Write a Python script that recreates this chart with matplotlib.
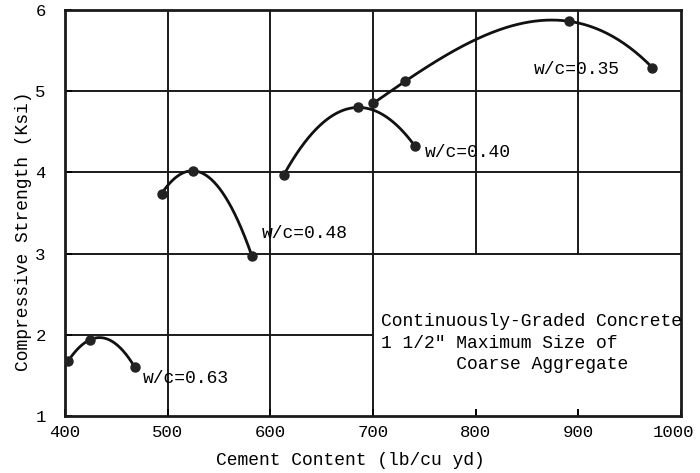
import numpy as np
import matplotlib
matplotlib.use("Agg")
import matplotlib.pyplot as plt
from matplotlib.transforms import ScaledTranslation

plt.rcParams['font.family'] = ['Liberation Mono', 'DejaVu Sans Mono']

# cement content (lb/cu yd) and compressive strength (ksi) per water/cement ratio
cement_063 = [403, 424, 468]
strength_063 = [1.68, 1.94, 1.60]

cement_048 = [494, 525, 582]
strength_048 = [3.74, 4.02, 2.97]

cement_040 = [613, 685, 741]
strength_040 = [3.97, 4.80, 4.32]

cement_035 = [700, 731, 891, 972]
strength_035 = [4.85, 5.12, 5.86, 5.29]

series = [
    (cement_063, strength_063, "w/c=0.63", (476, 1.47)),
    (cement_048, strength_048, "w/c=0.48", (592, 3.25)),
    (cement_040, strength_040, "w/c=0.40", (750, 4.25)),
    (cement_035, strength_035, "w/c=0.35", (857, 5.27)),
]

x_ticks = [400, 500, 600, 700, 800, 900, 1000]
y_ticks = [1, 2, 3, 4, 5, 6]

fig = plt.figure(figsize=(7.0, 4.73), dpi=100)
ax = fig.add_axes([0.093, 0.120, 0.880, 0.859])
ax.set_xlim(400, 1000)
ax.set_ylim(1, 6)

# grid: the lower right block is left open for the note
grid_kw = dict(color='#1a1a1a', lw=1.4, zorder=1)
for y in [3, 4, 5]:
    ax.plot([400, 1000], [y, y], **grid_kw)
ax.plot([400, 700], [2, 2], **grid_kw)
for x in [500, 600, 700]:
    ax.plot([x, x], [1, 6], **grid_kw)
for x in [800, 900]:
    ax.plot([x, x], [3, 6], **grid_kw)

# smooth curve through each set of test points
for cx, sy, label, (lx, ly) in series:
    cx = np.array(cx, dtype=float)
    sy = np.array(sy, dtype=float)
    coef = np.polyfit(cx, sy, len(cx) - 1)
    xs = np.linspace(cx.min(), cx.max(), 200)
    ax.plot(xs, np.polyval(coef, xs), color='#111111', lw=2.0, zorder=3)
    ax.plot(cx, sy, 'o', color='#222222', ms=6.5, zorder=4)
    ax.text(lx, ly, label, fontsize=13, va='center', ha='left', zorder=5)

note_kw = dict(fontsize=13, va='center', ha='left', clip_on=False)
ax.text(708, 2.16, "Continuously-Graded Concrete", **note_kw)
ax.text(708, 1.90, "1 1/2\" Maximum Size of", **note_kw)
ax.text(708, 1.64, "       Coarse Aggregate", **note_kw)

ax.set_xticks(x_ticks)
ax.set_yticks(y_ticks)
ax.tick_params(direction='in', length=5, width=1.4, labelsize=12.5)
ax.tick_params(axis='x', pad=6)
ax.tick_params(axis='y', pad=14)
for s in ax.spines.values():
    s.set_linewidth(2.0)
    s.set_color('#1a1a1a')

# keep the last x label inside the figure
last = ax.get_xticklabels()[-1]
last.set_horizontalalignment('right')
last.set_transform(last.get_transform() + ScaledTranslation(0.13, 0, fig.dpi_scale_trans))

ax.set_xlabel("Cement Content (lb/cu yd)", fontsize=13)
ax.set_ylabel("Compressive Strength (Ksi)", fontsize=13)
ax.xaxis.set_label_coords(0.463, -0.088)
ax.yaxis.set_label_coords(-0.054, 0.456)

fig.savefig("out.png", dpi=100)
